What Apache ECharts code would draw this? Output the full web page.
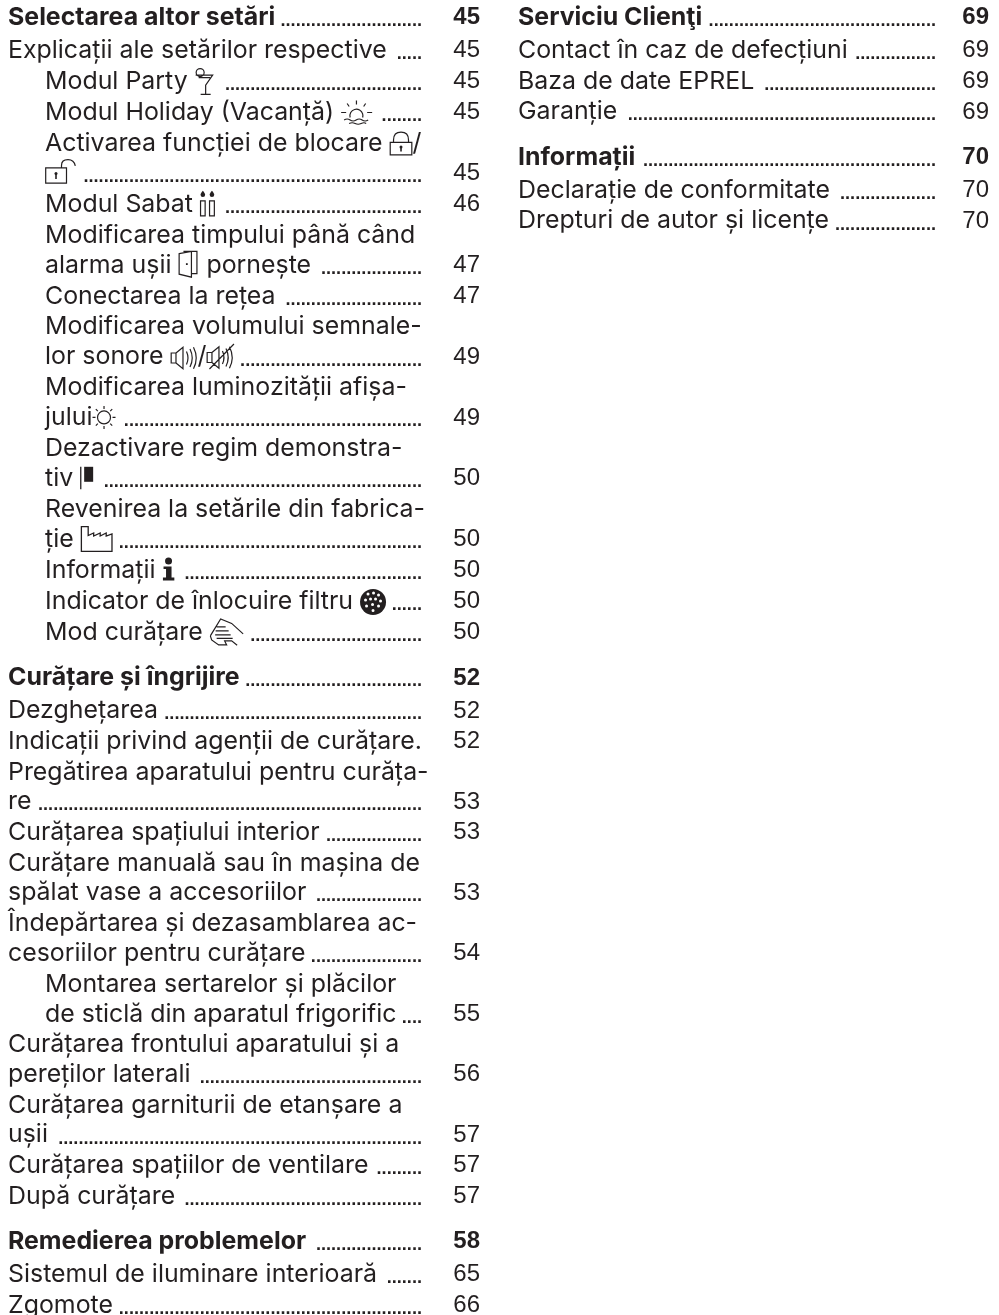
<!DOCTYPE html>
<html><head><meta charset="utf-8">
<style>html,body{margin:0;padding:0;background:#fff}#c{width:999px;height:1315px}</style>
<script src="https://cdn.jsdelivr.net/npm/echarts@6/dist/echarts.min.js"></script>
</head><body><div id="c"></div>
<script>
// row kinds: h = section heading, e = entry, s = sub-entry, c = continuation of sub-entry, n = continuation of entry
const leftTitles = ["Selectarea altor setări","Explicații ale setărilor respective","Modul Party {party}","Modul Holiday (Vacanță) {holiday}","Activarea funcției de blocare {lock}/","{unlock}","Modul Sabat {sabbath}","Modificarea timpului până când","alarma ușii {door} pornește","Conectarea la rețea","Modificarea volumului semnale-","lor sonore {sound}/{mute}","Modificarea luminozității afișa-","jului{sun}","Dezactivare regim demonstra-","tiv {flag}","Revenirea la setările din fabrica-","ție {factory}","Informații {info}","Indicator de înlocuire filtru {filter}","Mod curățare {hand}","Curățare și îngrijire","Dezghețarea","Indicații privind agenții de curățare.","Pregătirea aparatului pentru curăța-","re","Curățarea spațiului interior","Curățare manuală sau în mașina de","spălat vase a accesoriilor","Îndepărtarea și dezasamblarea ac-","cesoriilor pentru curățare","Montarea sertarelor și plăcilor","de sticlă din aparatul frigorific","Curățarea frontului aparatului și a","pereților laterali","Curățarea garniturii de etanșare a","ușii","Curățarea spațiilor de ventilare","După curățare","Remedierea problemelor","Sistemul de iluminare interioară","Zgomote"];
const leftPages = ["45","45","45","45","","45","46","","47","47","","49","","49","","50","","50","50","50","50","52","52","52","","53","53","","53","","54","","55","","56","","57","57","57","58","65","66"];
const leftKinds = ["h","e","s","s","s","c","s","s","c","s","s","c","s","c","s","c","s","c","s","s","s","h","e","e","e","n","e","e","n","e","n","s","c","e","n","e","n","e","e","h","e","e"];
const rightTitles = ["Serviciu Clienţi","Contact în caz de defecțiuni","Baza de date EPREL","Garanție","Informații","Declarație de conformitate","Drepturi de autor și licențe"];
const rightPages = ["69","69","69","69","70","70","70"];
const rightKinds = ["h","e","e","e","h","e","e"];

// pictograms drawn in the text flow: box size, rise above baseline, advance, parts
const ICONS = {
 party:{w:19,h:28,up:23.5,adv:22,parts:[{d:"M9.5 5.5A4 4 0 1 1 1.5 5.5A4 4 0 1 1 9.5 5.5M1 8H18L11 18V27M6 27.3H16M4 10.5H15.5"}]},
 holiday:{w:31,h:25,up:21,adv:31,parts:[{d:"M9 17A6.5 6.5 0 1 1 21.5 17M15.3 0V4M0 12H5M26 12H31M6 3L8 6M24.5 3L22.5 6M3 19.5Q6 17.5 9 19.5T15 19.5T21 19.5T27 19.5M8 23Q11 21.5 14 23T20 23T25 23"}]},
 lock:{w:23,h:24,up:21,adv:23,parts:[{d:"M0.7 11H22.3V23.5H0.7ZM4 11V8.5C4 3.5 7 0.7 11.5 0.7S19 3.5 19 8.5V11"},{d:"M11.5 15.5V20",lw:1.6},{d:"M10 15.5A1.5 1.5 0 1 1 13 15.5A1.5 1.5 0 1 1 10 15.5Z",fill:1}]},
 unlock:{w:31,h:25,up:23.5,adv:31,parts:[{d:"M0.7 9H21.5V24.3H0.7ZM16.5 9V6.5C16.5 3 19 0.7 23 0.7S29.5 3 30.3 7"},{d:"M11 14.5V20",lw:1.6},{d:"M9.5 14.5A1.5 1.5 0 1 1 12.5 14.5A1.5 1.5 0 1 1 9.5 14.5Z",fill:1}]},
 sabbath:{w:15,h:26,up:23,adv:15,parts:[{d:"M0.6 10.5H5.2V25.5H0.6ZM9.6 10.5H14.4V25.5H9.6Z"},{d:"M2.9 0.5C4.6 2.5 5.2 3.5 5.2 4.5A2.3 2.3 0 0 1 0.6 4.5C0.6 3.5 1.2 2.5 2.9 0.5ZM12 0.5C13.7 2.5 14.3 3.5 14.3 4.5A2.3 2.3 0 0 1 9.7 4.5C9.7 3.5 10.3 2.5 12 0.5Z",fill:1}]},
 door:{w:19,h:27,up:23.5,adv:21,parts:[{d:"M5 0.7H18.5V23H13.5M0.7 3L13 0.7V26.5L0.7 23.5Z"},{d:"M7.5 12.5H9.3V14.3H7.5Z",fill:1}]},
 sound:{w:27,h:23,up:19.5,adv:27,parts:[{d:"M0.7 6.5H5.5V16.5H0.7ZM5.5 6.5L12.5 0.7V22.3L5.5 16.5M16 5Q19 11.5 16 18M19.5 2.5Q24 11.5 19.5 20.5M23 0.7Q28.5 11.5 23 22.3"}]},
 mute:{w:28,h:25,up:22,adv:28,parts:[{d:"M0.7 8.5H5.5V18.5H0.7ZM5.5 8.5L12.5 2.7V24.3L5.5 18.5M16 7Q19 13.5 16 20M19.5 4.5Q24 13.5 19.5 22.5M23 2.7Q28.5 13.5 23 24.3M3 25L27.5 0"}]},
 sun:{w:23,h:23,up:21,adv:25,parts:[{d:"M18 11.5A6.5 6.5 0 1 1 5 11.5A6.5 6.5 0 1 1 18 11.5ZM11.5 0V3M11.5 20V23M0 11.5H3M20 11.5H23M3.3 3.3L5.3 5.3M17.7 17.7L19.7 19.7M3.3 19.7L5.3 17.7M17.7 5.3L19.7 3.3"}]},
 flag:{w:13,h:22.5,up:21,adv:13,parts:[{d:"M0.6 0V22.5",lw:1.3},{d:"M4 0H13V15H4Z",fill:1}]},
 factory:{w:32,h:26,up:22.7,adv:32,parts:[{d:"M0.7 0.7H7.5V9.5L13 7V10L19.5 7V10L25.5 7V10L31.3 8V25.3H0.7Z",lw:1.3}]},
 info:{w:12,h:23,up:22,adv:12,parts:[{d:"M2.5 3.5A3.5 3.5 0 1 1 9.5 3.5A3.5 3.5 0 1 1 2.5 3.5ZM1 9H9V20H11.8V23H0.4V20H3.5V11.5H1Z",fill:1}]},
 filter:{w:26,h:26,up:21.5,adv:26,parts:[{d:"M26 13A13 13 0 1 1 0 13A13 13 0 1 1 26 13Z",fill:1},{d:"M9.5 5A1.5 1.5 0 1 1 6.5 5A1.5 1.5 0 1 1 9.5 5ZM15 4A1.5 1.5 0 1 1 12 4A1.5 1.5 0 1 1 15 4ZM20 6A1.5 1.5 0 1 1 17 6A1.5 1.5 0 1 1 20 6ZM7 11A1.5 1.5 0 1 1 4 11A1.5 1.5 0 1 1 7 11ZM12 10A1.5 1.5 0 1 1 9 10A1.5 1.5 0 1 1 12 10ZM17 10A1.5 1.5 0 1 1 14 10A1.5 1.5 0 1 1 17 10ZM22 12A1.5 1.5 0 1 1 19 12A1.5 1.5 0 1 1 22 12ZM8 17A1.5 1.5 0 1 1 5 17A1.5 1.5 0 1 1 8 17ZM14 15.5A1.5 1.5 0 1 1 11 15.5A1.5 1.5 0 1 1 14 15.5ZM20 17A1.5 1.5 0 1 1 17 17A1.5 1.5 0 1 1 20 17ZM14.5 21.5A1.5 1.5 0 1 1 11.5 21.5A1.5 1.5 0 1 1 14.5 21.5Z",white:1}]},
 hand:{w:34,h:28,up:23.5,adv:35,parts:[{d:"M0.7 18L11 1L22 5.5L33.5 16M7 9H16M6 13H19M5.5 17H21M7 20.5H23M0.7 18L2 22L9 27H17L15 23H22L27.5 27.3"}]}
};
const INK='#231f20';
const FS=24.9, TEXT_GAP=4, DOT_PITCH=5.06;
const BODY='"Inter","Noto Sans",sans-serif', NUM='"Liberation Sans",sans-serif';
const measure=document.createElement('canvas').getContext('2d');
function layout(titles,pages,kinds,colX,numR,dotR){
  let y=26.7;const out=[];
  const step={h:45.5,e:30.6,s:30.9,c:30,n:29.8};
  titles.forEach((t,i)=>{
    if(i>0) y+= kinds[i]!=='h'&&kinds[i-1]==='h'?33:step[kinds[i]];
    const indent=(kinds[i]==='s'||kinds[i]==='c')?37:0;
    out.push({value:[colX+indent,y],title:t,page:pages[i],bold:kinds[i]==='h',numR,dotR});
  });
  return out;
}
const chart=echarts.init(document.getElementById('c'),null,{renderer:'canvas'});
const rows=layout(leftTitles,leftPages,leftKinds,8,480,421).concat(layout(rightTitles,rightPages,rightKinds,518,989,935));
chart.setOption({
  animation:false,backgroundColor:'#fff',
  grid:{left:0,right:0,top:0,bottom:0},
  xAxis:{type:'value',min:0,max:999,show:false},
  yAxis:{type:'value',min:0,max:1315,inverse:true,show:false},
  series:[{type:'custom',coordinateSystem:'cartesian2d',silent:true,clip:false,
    data:rows,
    renderItem(params,api){
      const r=rows[params.dataIndex];
      const [x0,b]=api.coord(r.value);
      const font=(r.bold?'700 ':'400 ')+FS+'px '+BODY;
      measure.font=font;
      const kids=[];let x=x0;
      r.title.split(/(\{\w+\})/).filter(Boolean).forEach(tok=>{
        const m=tok.match(/^\{(\w+)\}$/);
        if(m){
          const ic=ICONS[m[1]];
          ic.parts.forEach(p=>{
            const frame=`M0 0L0 0M${ic.w} ${ic.h}L${ic.w} ${ic.h}`;
            kids.push({type:'path',
              shape:{pathData:frame+p.d,x:x,y:b-ic.up,width:ic.w,height:ic.h,layout:'cover'},
              style:p.fill?{fill:INK,stroke:null}:p.white?{fill:'#fff',stroke:null}:{fill:'none',stroke:INK,lineWidth:p.lw||1.2}});
          });
          x+=ic.adv;
        }else{
          kids.push({type:'text',style:{text:tok.replace(/ $/,'\u00a0').replace(/^ /,'\u00a0'),x,y:b-9,font,fill:INK,textAlign:'left',textVerticalAlign:'middle'}});
          x+=measure.measureText(tok).width;
        }
      });
      if(r.page){
        const endX=api.coord([r.dotR,0])[0];
        const n=Math.max(0,Math.floor((endX-x-TEXT_GAP)/DOT_PITCH));
        kids.push({type:'text',style:{text:'.'.repeat(n),x:endX+1,y:b-5.5,font:'700 18.2px '+NUM,fill:INK,textAlign:'right',textVerticalAlign:'middle'}});
        kids.push({type:'text',style:{text:r.page,x:api.coord([r.numR,0])[0],y:b-9,font:(r.bold?'700 ':'400 ')+'24px '+NUM,fill:INK,textAlign:'right',textVerticalAlign:'middle'}});
      }
      return {type:'group',children:kids};
    }}]
});
</script></body></html>
